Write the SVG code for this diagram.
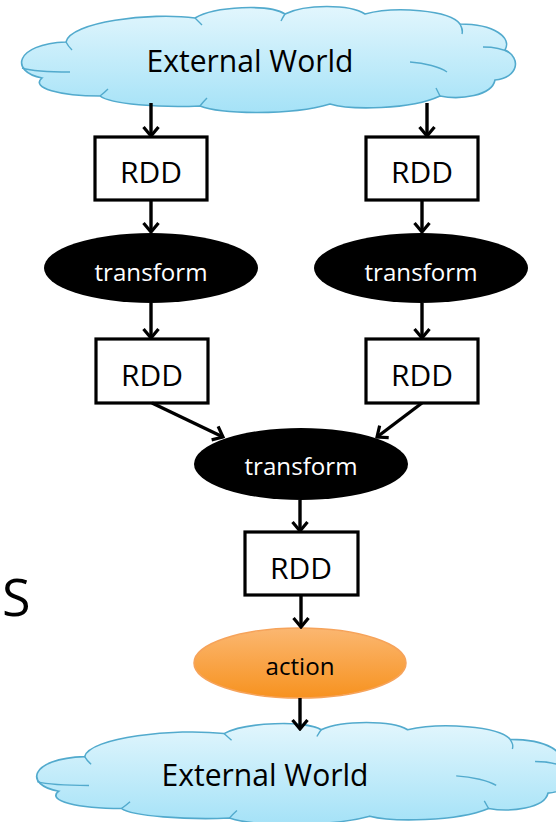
<svg xmlns="http://www.w3.org/2000/svg" width="556" height="822" viewBox="0 0 556 822">
<style>
.cloud{fill:url(#cg);stroke:#52aacd;stroke-width:1.6;vector-effect:non-scaling-stroke}
.inner{fill:none;stroke:#52aacd;stroke-width:1.4;vector-effect:non-scaling-stroke}
.box{fill:#fff;stroke:#000;stroke-width:3.2}
.op{fill:#000}
.t{font-family:"Open Sans","Noto Sans",sans-serif;text-anchor:middle}
.big{font-size:31px;fill:#000}
.rdd{font-size:30px;fill:#000}
.tr{font-size:24px;fill:#fff}
.ac{font-size:24px;fill:#000}
.edge{stroke:#000;stroke-width:3.4;fill:none;marker-end:url(#ah)}
</style>
<defs>
<linearGradient id="cg" x1="0" y1="0" x2="0" y2="1">
<stop offset="0" stop-color="#e2f6fd"/>
<stop offset="1" stop-color="#a5e2f7"/>
</linearGradient>
<linearGradient id="og" x1="0" y1="0" x2="0" y2="1">
<stop offset="0" stop-color="#fbb771"/>
<stop offset="1" stop-color="#f7921f"/>
</linearGradient>
<marker id="ah" markerUnits="userSpaceOnUse" viewBox="-12 -10 14 20" refX="0" refY="0" markerWidth="14" markerHeight="20" orient="auto">
<path d="M-9,-7.5 L0,0 L-9,7.5" fill="none" stroke="#000" stroke-width="3.2"/>
</marker>
<path id="cloudPath" d="M42,78 C10,72 14,44 66,42 C70,22 150,12 195,18 C215,6 270,4 285,14 C305,4 350,4 365,14 C395,6 450,10 460,24 C495,24 512,38 505,50 C522,58 518,78 495,80 C492,96 460,100 440,96 C410,110 350,110 330,104 C290,116 220,114 200,106 C160,108 110,104 100,96 C60,96 30,88 42,78 Z"/>
</defs>
<rect width="556" height="822" fill="#fff"/>

<g id="cloud-top">
<use href="#cloudPath" class="cloud"/>
<path class="inner" d="M22,68 C35,72 55,72 70,72 M66,42 C68,46 70,48 72,50 M195,18 C198,21 200,23 202,25 M285,14 C283,17 282,19 281,21 M460,24 C462,28 463,30 462,34 M483,47 C495,47 505,50 510,53 M410,62 C425,63 440,67 447,72 M440,96 C438,92 437,90 436,88 M200,106 C203,102 205,100 207,98 M100,96 C104,93 106,91 108,89"/>
<text class="t big" x="250" y="72" textLength="207" lengthAdjust="spacingAndGlyphs">External World</text>
</g>

<g id="cloud-bottom">
<g transform="translate(35,724) scale(1.08,0.96) translate(-20,-8)">
<use href="#cloudPath" class="cloud"/>
<path class="inner" d="M22,68 C35,72 55,72 70,72 M66,42 C68,46 70,48 72,50 M195,18 C198,21 200,23 202,25 M285,14 C283,17 282,19 281,21 M460,24 C462,28 463,30 462,34 M483,47 C495,47 505,50 510,53 M410,62 C425,63 440,67 447,72 M440,96 C438,92 437,90 436,88 M200,106 C203,102 205,100 207,98 M100,96 C104,93 106,91 108,89"/>
</g>
<text class="t big" x="265" y="786" textLength="207" lengthAdjust="spacingAndGlyphs">External World</text>
</g>

<g id="rdd-1"><rect class="box" x="95" y="137" width="112" height="63"/><text class="t rdd" x="151" y="183" textLength="62" lengthAdjust="spacingAndGlyphs">RDD</text></g>
<g id="rdd-2"><rect class="box" x="366" y="137" width="112" height="63"/><text class="t rdd" x="422" y="183" textLength="62" lengthAdjust="spacingAndGlyphs">RDD</text></g>
<g id="transform-1"><ellipse class="op" cx="151" cy="268" rx="107" ry="35"/><text class="t tr" x="151" y="281" textLength="113" lengthAdjust="spacingAndGlyphs">transform</text></g>
<g id="transform-2"><ellipse class="op" cx="421" cy="268" rx="107" ry="35"/><text class="t tr" x="421" y="281" textLength="113" lengthAdjust="spacingAndGlyphs">transform</text></g>
<g id="rdd-3"><rect class="box" x="96" y="339" width="112" height="64"/><text class="t rdd" x="152" y="386" textLength="62" lengthAdjust="spacingAndGlyphs">RDD</text></g>
<g id="rdd-4"><rect class="box" x="366" y="339" width="112" height="64"/><text class="t rdd" x="422" y="386" textLength="62" lengthAdjust="spacingAndGlyphs">RDD</text></g>
<g id="transform-3"><ellipse class="op" cx="301" cy="464" rx="107" ry="36"/><text class="t tr" x="301" y="475" textLength="113" lengthAdjust="spacingAndGlyphs">transform</text></g>
<g id="rdd-5"><rect class="box" x="245" y="532" width="113" height="63"/><text class="t rdd" x="301" y="579" textLength="62" lengthAdjust="spacingAndGlyphs">RDD</text></g>
<g id="action"><ellipse cx="300" cy="663" rx="106" ry="35" fill="url(#og)" stroke="#f6a35a" stroke-width="1.5"/><text class="t ac" x="300" y="675" textLength="69" lengthAdjust="spacingAndGlyphs">action</text></g>

<text x="2" y="616" font-family="Open Sans, sans-serif" font-size="52" fill="#000">S</text>

<g id="connectors">
<line class="edge" x1="151" y1="103" x2="151" y2="136"/>
<line class="edge" x1="427" y1="103" x2="427" y2="136"/>
<line class="edge" x1="151" y1="200" x2="151" y2="232"/>
<line class="edge" x1="422" y1="200" x2="422" y2="232"/>
<line class="edge" x1="151" y1="303" x2="151" y2="338"/>
<line class="edge" x1="422" y1="303" x2="422" y2="338"/>
<line class="edge" x1="152" y1="403" x2="223" y2="437"/>
<line class="edge" x1="422" y1="403" x2="377" y2="437"/>
<line class="edge" x1="300" y1="500" x2="300" y2="531"/>
<line class="edge" x1="301" y1="595" x2="301" y2="627"/>
<line class="edge" x1="300" y1="698" x2="300" y2="729"/>
</g>
</svg>
